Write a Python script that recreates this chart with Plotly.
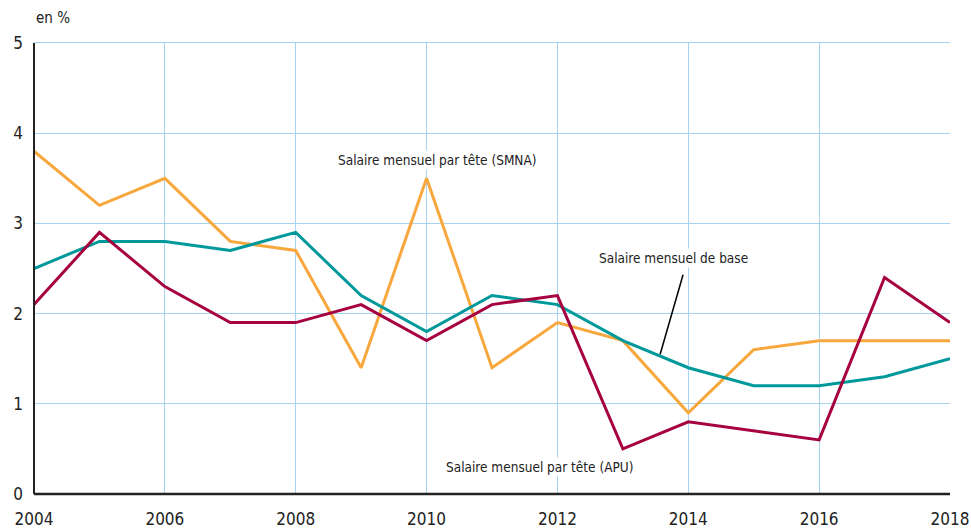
"""Salaires mensuels : évolution annuelle 2004-2018."""

import plotly.graph_objects as go

YEARS = list(range(2004, 2019))

SALAIRE_BASE = [2.5, 2.8, 2.8, 2.7, 2.9, 2.2, 1.8, 2.2, 2.1, 1.7, 1.4, 1.2, 1.2, 1.3, 1.5]
SMNA = [3.8, 3.2, 3.5, 2.8, 2.7, 1.4, 3.5, 1.4, 1.9, 1.7, 0.9, 1.6, 1.7, 1.7, 1.7]
APU = [2.1, 2.9, 2.3, 1.9, 1.9, 2.1, 1.7, 2.1, 2.2, 0.5, 0.8, 0.7, 0.6, 2.4, 1.9]

X_TICKS = list(range(2004, 2019, 2))
Y_TICKS = [0, 1, 2, 3, 4, 5]

FONT = "DejaVu Sans Condensed, Liberation Sans Narrow, Roboto, sans-serif"
GRID = "#a6d4f0"

_SERIES = [
    ("Salaire mensuel par tête (SMNA)", SMNA, "#f8a73d"),
    ("Salaire mensuel de base", SALAIRE_BASE, "#00999b"),
    ("Salaire mensuel par tête (APU)", APU, "#a6023f"),
]

fig = go.Figure()
for name, values, color in _SERIES:
    fig.add_trace(
        go.Scatter(
            x=YEARS,
            y=values,
            name=name,
            mode="lines",
            line=dict(color=color, width=3),
            showlegend=False,
            hoverinfo="skip",
        )
    )

# leader line for the base-salary label
fig.add_shape(
    type="line",
    x0=2013.92, y0=2.43, x1=2013.57, y1=1.55,
    line=dict(color="black", width=1.5),
)

labels = [
    ("Salaire mensuel par tête (SMNA)", 2010.17, 3.70),
    ("Salaire mensuel de base", 2013.77, 2.62),
    ("Salaire mensuel par tête (APU)", 2011.73, 0.30),
]
for text, x, y in labels:
    fig.add_annotation(
        x=x, y=y, text=text, showarrow=False,
        font=dict(family=FONT, size=13.5, color="#222222"),
        bgcolor="white",
    )

fig.add_annotation(
    xref="paper", yref="paper", x=0, y=1.0, yshift=25,
    xanchor="left", yanchor="middle", text="en %", showarrow=False,
    font=dict(family=FONT, size=15, color="#222222"),
)

fig.update_layout(
    width=971,
    height=529,
    plot_bgcolor="white",
    paper_bgcolor="white",
    margin=dict(l=34, r=21, t=43, b=35),
    font=dict(family=FONT, size=17, color="#222222"),
    xaxis=dict(
        range=[2004, 2018],
        tickvals=X_TICKS,
        showgrid=True,
        gridcolor=GRID,
        gridwidth=1.2,
        zeroline=False,
        showline=True,
        linecolor=GRID,
        mirror=True,
        ticks="",
        ticklabelstandoff=10,
        automargin=False,
    ),
    yaxis=dict(
        range=[0, 5],
        tickvals=Y_TICKS,
        showgrid=True,
        gridcolor=GRID,
        gridwidth=1.2,
        zeroline=False,
        showline=False,
        ticks="",
        ticklabelstandoff=10,
        automargin=False,
    ),
)

# dark axis lines on left and bottom
fig.add_shape(type="line", xref="paper", yref="paper", x0=0, y0=0, x1=0, y1=1,
              line=dict(color="#222222", width=2))
fig.add_shape(type="line", xref="paper", yref="paper", x0=0, y0=0, x1=1, y1=0,
              line=dict(color="#222222", width=2.5))

# drop the default page margin so the 971x529 figure fits the window exactly
fig.write_html(
    "out.html",
    config={"displayModeBar": False},
    post_script="document.body.style.margin='0';",
)
